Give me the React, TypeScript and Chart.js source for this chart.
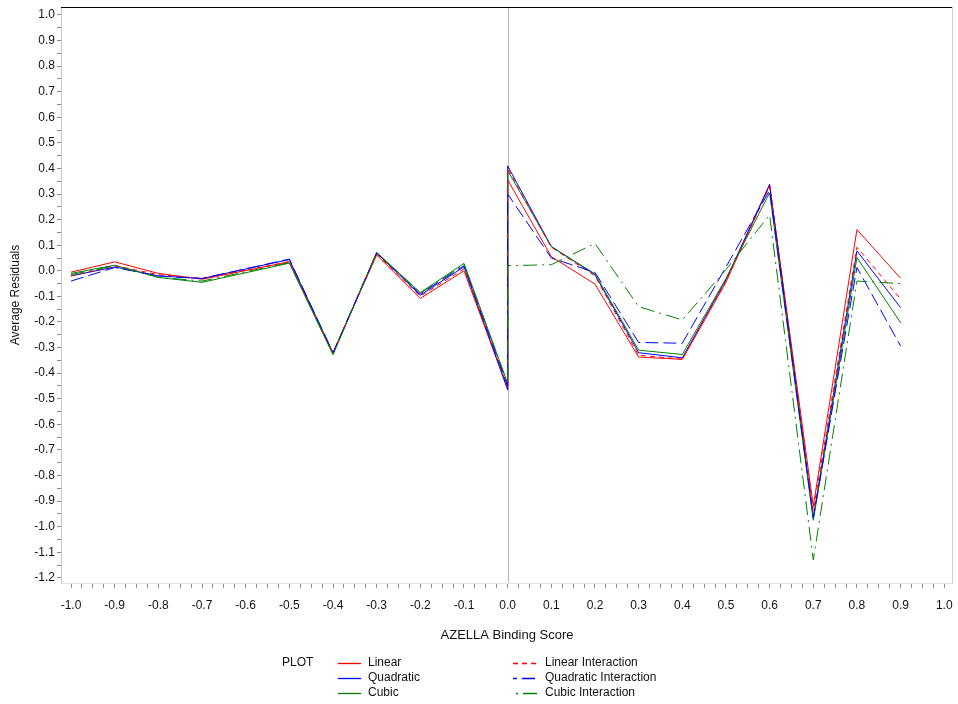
import React, { useEffect, useRef } from 'react';
import { Chart, registerables } from 'chart.js';

Chart.register(...registerables);

// x positions (0.0 appears twice: end of the left branch and start of the right branch)
const xValues = [-1.0, -0.9, -0.8, -0.7, -0.5, -0.4, -0.3, -0.2, -0.1, 0.0, 0.0, 0.1, 0.2, 0.3, 0.4, 0.5, 0.6, 0.7, 0.8, 0.9];

const linear = [-0.005, 0.035, -0.01, -0.033, 0.035, -0.32, 0.062, -0.108, 0.0, -0.46, 0.356, 0.055, -0.052, -0.337, -0.346, -0.045, 0.336, -0.92, 0.161, -0.029];
const quadratic = [-0.02, 0.015, -0.02, -0.03, 0.044, -0.322, 0.07, -0.095, 0.016, -0.465, 0.41, 0.095, -0.015, -0.32, -0.34, -0.035, 0.338, -0.965, 0.078, -0.144];
const cubic = [-0.01, 0.022, -0.026, -0.045, 0.03, -0.328, 0.072, -0.085, 0.029, -0.44, 0.392, 0.094, -0.012, -0.31, -0.327, -0.03, 0.305, -0.975, 0.052, -0.203];
const linearInteraction = [-0.02, 0.02, -0.015, -0.03, 0.036, -0.322, 0.066, -0.1, 0.008, -0.455, 0.4, 0.092, -0.02, -0.33, -0.345, -0.04, 0.33, -0.94, 0.092, -0.11];
const quadraticInteraction = [-0.04, 0.013, -0.02, -0.03, 0.046, -0.32, 0.07, -0.09, 0.02, -0.45, 0.30, 0.05, -0.006, -0.28, -0.283, 0.015, 0.315, -0.965, 0.013, -0.294];
const cubicInteraction = [-0.015, 0.02, -0.025, -0.04, 0.032, -0.325, 0.07, -0.088, 0.025, -0.44, 0.02, 0.024, 0.107, -0.14, -0.192, 0.005, 0.218, -1.13, -0.04, -0.05];

const seriesNames = ['Linear', 'Quadratic', 'Cubic', 'Linear Interaction', 'Quadratic Interaction', 'Cubic Interaction'];
const seriesValues = [linear, quadratic, cubic, linearInteraction, quadraticInteraction, cubicInteraction];
const seriesColors = ['#ff0000', '#0000ff', '#008000', '#ff0000', '#0000ff', '#008000'];
const seriesDashes: number[][] = [[], [], [], [5, 4], [13, 5], [14, 5, 2, 5]];

// tick positions
const xLabelTicks = [-1.0, -0.9, -0.8, -0.7, -0.6, -0.5, -0.4, -0.3, -0.2, -0.1, 0.0, 0.1, 0.2, 0.3, 0.4, 0.5, 0.6, 0.7, 0.8, 0.9, 1.0];
const yLabelTicks = [-1.2, -1.1, -1.0, -0.9, -0.8, -0.7, -0.6, -0.5, -0.4, -0.3, -0.2, -0.1, 0.0, 0.1, 0.2, 0.3, 0.4, 0.5, 0.6, 0.7, 0.8, 0.9, 1.0];

const FONT = '"Liberation Sans", Arial, Helvetica, sans-serif';

function withMinor(major: number[], parts: number): number[] {
  const out: number[] = [];
  for (let i = 0; i < major.length; i++) {
    out.push(major[i]);
    if (i < major.length - 1) {
      const step = (major[i + 1] - major[i]) / parts;
      for (let k = 1; k < parts; k++) out.push(+(major[i] + step * k).toFixed(4));
    }
  }
  return out;
}

function isMajor(v: number) {
  return Math.abs(Math.round(v * 10) - v * 10) < 1e-6;
}

function fmt(v: number) {
  const r = Math.round(v * 10) / 10;
  return (r === 0 ? 0 : r).toFixed(1);
}

const framePlugin = {
  id: 'framePlugin',
  beforeDatasetsDraw(chart: any) {
    const { ctx, chartArea, scales } = chart;
    const x0 = Math.round(scales.x.getPixelForValue(0)) + 0.5;
    ctx.save();
    ctx.strokeStyle = '#b4b4b4';
    ctx.lineWidth = 1;
    ctx.beginPath();
    ctx.moveTo(x0, chartArea.top);
    ctx.lineTo(x0, chartArea.bottom);
    ctx.stroke();
    ctx.restore();
  },
  afterDraw(chart: any) {
    const { ctx, chartArea } = chart;
    ctx.save();
    ctx.lineWidth = 1;
    ctx.strokeStyle = '#000000';
    ctx.beginPath();
    ctx.moveTo(chartArea.left, chartArea.top + 0.5);
    ctx.lineTo(chartArea.right, chartArea.top + 0.5);
    ctx.stroke();
    ctx.strokeStyle = '#d0d0d0';
    ctx.beginPath();
    ctx.moveTo(chartArea.right - 0.5, chartArea.top);
    ctx.lineTo(chartArea.right - 0.5, chartArea.bottom);
    ctx.stroke();

    // legend
    ctx.font = '12px ' + FONT;
    ctx.textBaseline = 'middle';
    ctx.textAlign = 'left';
    ctx.fillStyle = '#111111';
    ctx.fillText('PLOT', 282, 663);
    const cols = [
      { x0: 338, x1: 361, tx: 368 },
      { x0: 513, x1: 539, tx: 545 },
    ];
    const rows = [663, 678, 693];
    const offsets = [0, 0, 0, 0, 9, 16];
    seriesNames.forEach((name, i) => {
      const c = cols[Math.floor(i / 3)];
      const y = rows[i % 3];
      ctx.save();
      ctx.lineWidth = 1.3;
      ctx.strokeStyle = seriesColors[i];
      ctx.setLineDash(seriesDashes[i]);
      ctx.lineDashOffset = offsets[i];
      ctx.beginPath();
      ctx.moveTo(c.x0, y + 0.5);
      ctx.lineTo(c.x1, y + 0.5);
      ctx.stroke();
      ctx.restore();
      ctx.fillStyle = '#111111';
      ctx.fillText(name, c.tx, y);
    });
    ctx.restore();
  },
};

export default function App() {
  const ref = useRef<HTMLCanvasElement | null>(null);
  useEffect(() => {
    if (!ref.current) return;
    const datasets = seriesNames.map((name, i) => ({
      label: name,
      data: xValues.map((x, j) => ({ x, y: seriesValues[i][j] })),
      borderColor: seriesColors[i],
      backgroundColor: seriesColors[i],
      borderWidth: 1,
      borderDash: seriesDashes[i],
      pointRadius: 0,
      pointHoverRadius: 0,
      fill: false,
      tension: 0,
      order: 5 - i,
    }));
    const chart = new Chart(ref.current, {
      type: 'line',
      data: { datasets },
      plugins: [framePlugin],
      options: {
        animation: false,
        responsive: false,
        maintainAspectRatio: false,
        layout: { padding: { top: 7, right: 5, bottom: 59, left: 0 } },
        plugins: {
          legend: { display: false },
          tooltip: { enabled: false },
          title: { display: false },
        },
        scales: {
          x: {
            type: 'linear',
            min: -1.023,
            max: 1.02,
            afterBuildTicks: (scale: any) => {
              scale.ticks = withMinor(xLabelTicks, 4).map((v) => ({ value: v }));
            },
            afterFit: (scale: any) => {
              scale.height = 62;
              scale.paddingLeft = 0;
              scale.paddingRight = 0;
            },
            ticks: {
              autoSkip: false,
              maxRotation: 0,
              minRotation: 0,
              padding: 10,
              color: '#111111',
              font: { family: FONT, size: 12 },
              callback: (v: any) => (isMajor(Number(v)) ? fmt(Number(v)) : ''),
            },
            grid: { drawOnChartArea: false, drawTicks: true, tickLength: 5, color: '#8c8c8c' },
            border: { display: true, color: '#e4e4e4' },
            title: {
              display: true,
              text: 'AZELLA Binding Score',
              color: '#111111',
              font: { family: FONT, size: 13 },
              padding: { top: 0, bottom: 2 },
            },
          },
          y: {
            type: 'linear',
            min: -1.22,
            max: 1.031,
            afterBuildTicks: (scale: any) => {
              scale.ticks = withMinor(yLabelTicks, 2).map((v) => ({ value: v }));
            },
            afterFit: (scale: any) => {
              scale.width = 61;
              scale.paddingTop = 0;
              scale.paddingBottom = 0;
            },
            ticks: {
              autoSkip: false,
              padding: 2,
              color: '#111111',
              font: { family: FONT, size: 12 },
              callback: (v: any) => (isMajor(Number(v)) ? fmt(Number(v)) : ''),
            },
            grid: { drawOnChartArea: false, drawTicks: true, tickLength: 4, color: '#8c8c8c' },
            border: { display: true, color: '#c8c8c8' },
            title: {
              display: true,
              text: 'Average Residuals',
              color: '#111111',
              font: { family: FONT, size: 12 },
              padding: { top: 8, bottom: 0 },
            },
          },
        },
      },
    });
    return () => chart.destroy();
  }, []);
  return (
    <div style={{ position: 'absolute', left: 0, top: 0, width: 958, height: 704, background: '#ffffff' }}>
      <canvas ref={ref} width={958} height={704} style={{ display: 'block', width: 958, height: 704 }} />
    </div>
  );
}
